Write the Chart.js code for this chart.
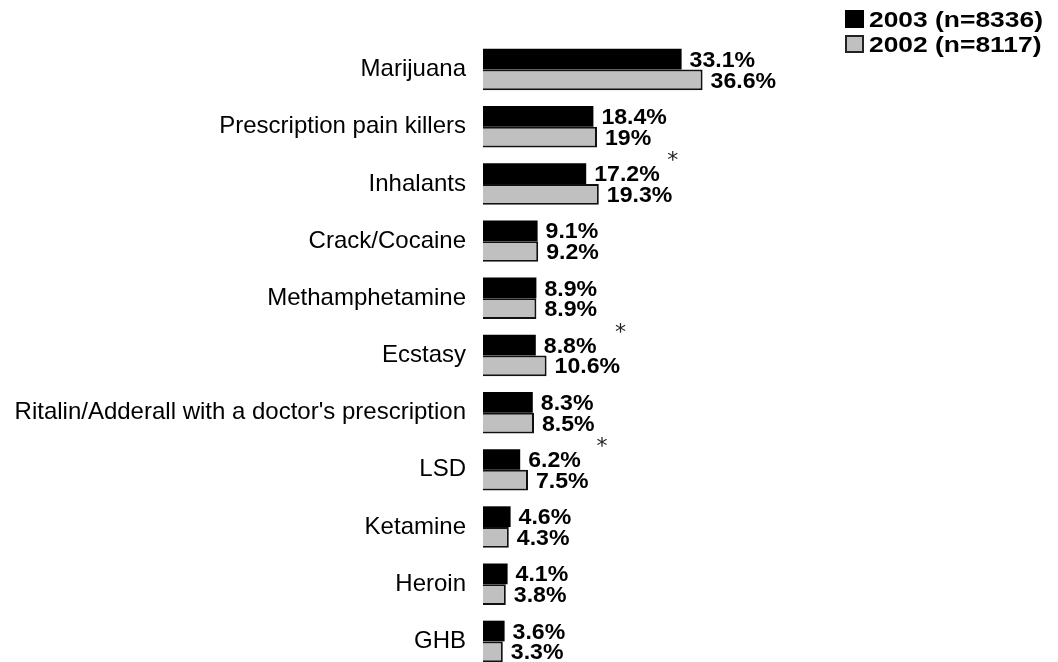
<!DOCTYPE html>
<html>
<head>
<meta charset="utf-8">
<style>
html,body{margin:0;padding:0;background:#fff;overflow:hidden;}
#wrap{position:absolute;left:0;top:0;width:1058px;height:672px;}
</style>
<script src="https://cdn.jsdelivr.net/npm/chart.js@4/dist/chart.umd.min.js"></script>
</head>
<body>
<div id="wrap"><canvas id="c" width="1058" height="672"></canvas></div>
<script>
const categories = ['Marijuana','Prescription pain killers','Inhalants','Crack/Cocaine','Methamphetamine','Ecstasy',"Ritalin/Adderall with a doctor's prescription",'LSD','Ketamine','Heroin','GHB'];
const values2003 = [33.1,18.4,17.2,9.1,8.9,8.8,8.3,6.2,4.6,4.1,3.6];
const values2002 = [36.6,19,19.3,9.2,8.9,10.6,8.5,7.5,4.3,3.8,3.3];
const significant = [false,false,true,false,false,true,false,true,false,false,false];
const seriesLabels = ['2003 (n=8336)','2002 (n=8117)'];

const FONT = '"Liberation Sans", Arial, Helvetica, sans-serif';

const valueLabels = {
  id:'valueLabels',
  afterDatasetsDraw(chart){
    const ctx = chart.ctx;
    ctx.save();
    ctx.fillStyle = '#000';
    ctx.font = 'bold 22px ' + FONT;
    ctx.textAlign = 'left';
    ctx.textBaseline = 'middle';
    chart.data.datasets.forEach((ds, di) => {
      const meta = chart.getDatasetMeta(di);
      meta.data.forEach((bar, i) => {
        ctx.save();
        ctx.translate(bar.x + 8, bar.y + 1.5);
        ctx.scale(1.05, 1);
        ctx.fillText(ds.data[i] + '%', 0, 0);
        ctx.restore();
      });
    });
    // significance asterisks
    const m0 = chart.getDatasetMeta(0), m1 = chart.getDatasetMeta(1);
    ctx.font = '22px "DejaVu Sans", sans-serif';
    ctx.fillStyle = '#222';
    ctx.textAlign = 'center';
    ctx.textBaseline = 'alphabetic';
    const tm = ctx.measureText('*');
    const mid = (tm.actualBoundingBoxAscent - tm.actualBoundingBoxDescent) / 2;
    significant.forEach((s, i) => {
      if (!s) return;
      const b0 = m0.data[i], b1 = m1.data[i];
      const top = b0.y - b0.height / 2;
      ctx.fillText('*', b1.x + 74, top - 7 + mid);
    });
    ctx.restore();
  }
};

const customLegend = {
  id:'customLegend',
  afterDraw(chart){
    const ctx = chart.ctx;
    const items = [
      {fill:'#000', stroke:'#000'},
      {fill:'#c0c0c0', stroke:'#222'}
    ];
    ctx.save();
    items.forEach((it, k) => {
      const y0 = 10 + k * 25;
      ctx.fillStyle = it.fill;
      ctx.fillRect(845, y0, 19, 18);
      ctx.lineWidth = 2;
      ctx.strokeStyle = it.stroke;
      ctx.strokeRect(846, y0 + 1, 17, 16);
      ctx.save();
      ctx.translate(869, y0 + 10);
      ctx.scale(1.2, 1);
      ctx.fillStyle = '#000';
      ctx.font = 'bold 22px ' + FONT;
      ctx.textAlign = 'left';
      ctx.textBaseline = 'middle';
      ctx.fillText(seriesLabels[k], 0, 1);
      ctx.restore();
    });
    ctx.restore();
  }
};

new Chart(document.getElementById('c'), {
  type:'bar',
  data:{
    labels: categories,
    datasets:[
      {label: seriesLabels[0], data: values2003, backgroundColor:'#000', borderColor:'#000', borderWidth:0},
      {label: seriesLabels[1], data: values2002, backgroundColor:'#c0c0c0', borderColor:'#111', borderWidth:2}
    ]
  },
  options:{
    indexAxis:'y',
    responsive:false,
    animation:false,
    devicePixelRatio:1,
    layout:{padding:{left:0, right:35, top:41, bottom:2}},
    datasets:{bar:{categoryPercentage:0.725, barPercentage:1.0}},
    scales:{
      x:{display:false, min:0, max:90},
      y:{
        afterFit(scale){ scale.width = 483; scale.paddingTop = 0; scale.paddingBottom = 0; },
        grid:{display:false, drawTicks:false},
        border:{display:false},
        ticks:{color:'#000', padding:17, font:{family:FONT, size:24}}
      }
    },
    plugins:{legend:{display:false}, tooltip:{enabled:false}}
  },
  plugins:[valueLabels, customLegend]
});
</script>
</body>
</html>
